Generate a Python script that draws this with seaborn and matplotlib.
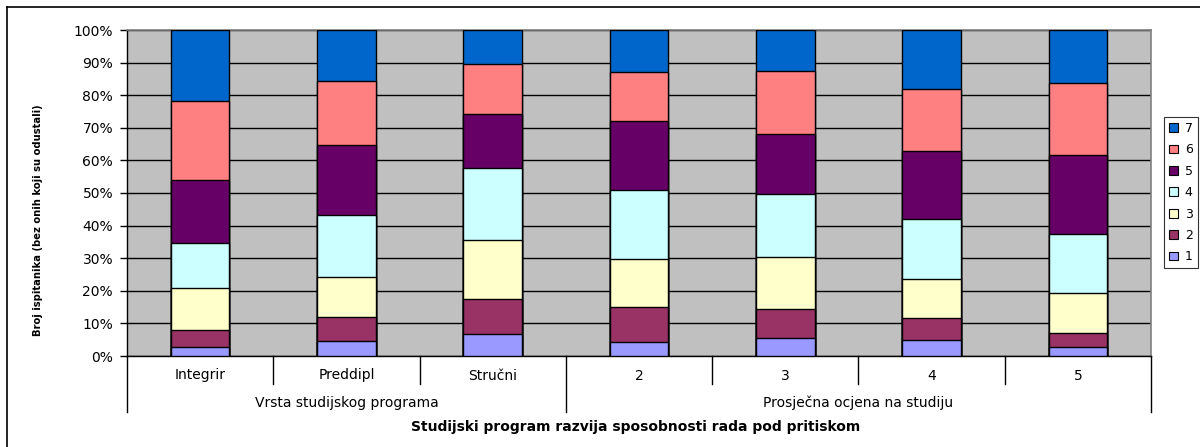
import matplotlib
matplotlib.use("Agg")
import matplotlib.pyplot as plt
import matplotlib.transforms as mtransforms
from matplotlib.patches import Patch
from matplotlib.lines import Line2D
import seaborn as sns
import pandas as pd
import numpy as np

# ---- data (percent of respondents per answer 1..7) ----
categories = ["Integrir", "Preddipl", "Stručni", "2", "3", "4", "5"]
groups = ["Vrsta studijskog programa", "Prosječna ocjena na studiju"]
group_sizes = [3, 4]
series_names = ["1", "2", "3", "4", "5", "6", "7"]
s1 = [2.9, 4.5, 6.7, 4.3, 5.4, 4.8, 2.7]
s2 = [5.1, 7.4, 10.8, 10.6, 8.9, 7.0, 4.3]
s3 = [12.8, 12.4, 18.0, 14.8, 16.0, 11.9, 12.2]
s4 = [13.8, 19.1, 22.3, 21.1, 19.4, 18.3, 18.1]
s5 = [19.4, 21.2, 16.5, 21.4, 18.4, 20.8, 24.3]
s6 = [24.1, 19.8, 15.2, 15.0, 19.4, 19.1, 22.2]
s7 = [21.9, 15.6, 10.5, 12.8, 12.5, 18.1, 16.2]
series = [s1, s2, s3, s4, s5, s6, s7]
colors = ["#9999FF", "#993366", "#FFFFCC", "#CCFFFF", "#660066", "#FF8080", "#0066CC"]
yticks = [0, 10, 20, 30, 40, 50, 60, 70, 80, 90, 100]
ylabel = "Broj ispitanika (bez onih koji su odustali)"
xlabel = "Studijski program razvija sposobnosti rada pod pritiskom"

plt.rcParams["font.family"] = ["DejaVu Sans"]

W, H = 1200, 447
fig = plt.figure(figsize=(W / 100, H / 100), dpi=100)
ax_l, ax_r, ax_t, ax_b = 127, 1151, 30, 356
ax = fig.add_axes([ax_l / W, 1 - ax_b / H, (ax_r - ax_l) / W, (ax_b - ax_t) / H])
ax.set_facecolor("#C0C0C0")

# gridlines behind bars
ax.set_axisbelow(True)
ax.yaxis.grid(True, color="black", linewidth=1.0)

# stacked bars: draw cumulative totals from top series down
cum = np.cumsum(np.array(series), axis=0)
for i in range(len(series) - 1, -1, -1):
    df = pd.DataFrame({"cat": categories, "val": cum[i]})
    sns.barplot(data=df, x="cat", y="val", order=categories, color=colors[i],
                saturation=1, width=0.4, edgecolor="black", linewidth=1.0,
                errorbar=None, ax=ax, zorder=3)

ax.set_xlim(-0.5, len(categories) - 0.5)
ax.set_ylim(0, 100)
ax.set_yticks(yticks)
ax.set_yticklabels([f"{t}%" for t in yticks], fontsize=10)
ax.tick_params(axis="y", length=5, width=1, color="black", pad=5)
ax.set_xticks(range(len(categories)))
ax.set_xticklabels(categories, fontsize=10)
ax.tick_params(axis="x", length=0, pad=9)
ax.set_xlabel("")
ax.set_ylabel("")

for side in ["top", "right"]:
    ax.spines[side].set_color("#808080")
    ax.spines[side].set_linewidth(1.2)
for side in ["left", "bottom"]:
    ax.spines[side].set_color("black")
    ax.spines[side].set_linewidth(1.0)

# category separators & group lines below axis
trans = mtransforms.blended_transform_factory(ax.transData, ax.transAxes)
short_y = -(384 - ax_b) / (ax_b - ax_t)
long_y = -(412 - ax_b) / (ax_b - ax_t)
bounds = [0]
for g in group_sizes:
    bounds.append(bounds[-1] + g)
for k in range(len(categories) + 1):
    xpos = k - 0.5
    yb = long_y if k in bounds else short_y
    ax.add_line(Line2D([xpos, xpos], [0, yb], transform=trans, color="black",
                       linewidth=1.0, clip_on=False))
group_y = -(403 - ax_b) / (ax_b - ax_t)
for gi, gname in enumerate(groups):
    xc = (bounds[gi] + bounds[gi + 1]) / 2 - 0.5
    ax.text(xc, group_y, gname, transform=trans, ha="center", va="center", fontsize=10)

fig.text(636 / W, 1 - 427 / H, xlabel, ha="center", va="center",
         fontsize=10, fontweight="bold")
fig.text(38 / W, 1 - 220 / H, ylabel, ha="center", va="center", rotation=90,
         fontsize=7.2, fontweight="bold")

# legend (7 at top)
handles = [Patch(facecolor=colors[i], edgecolor="black", linewidth=0.8)
           for i in range(len(series) - 1, -1, -1)]
labels = [series_names[i] for i in range(len(series) - 1, -1, -1)]
leg = fig.legend(handles, labels, loc="upper left",
                 bbox_to_anchor=(1164 / W, 1 - 117 / H), fontsize=9,
                 frameon=True, fancybox=False, edgecolor="black",
                 handlelength=0.7, handleheight=0.7, handletextpad=0.55,
                 labelspacing=0.67, borderpad=0.4, borderaxespad=0)
leg.get_frame().set_linewidth(0.8)

# outer chart border (left & top visible)
fig.add_artist(Line2D([7 / W, 1], [1 - 7 / H, 1 - 7 / H], transform=fig.transFigure,
                      color="black", linewidth=1.2))
fig.add_artist(Line2D([7 / W, 7 / W], [0, 1 - 7 / H], transform=fig.transFigure,
                      color="black", linewidth=1.2))

fig.savefig("out.png", dpi=100)
